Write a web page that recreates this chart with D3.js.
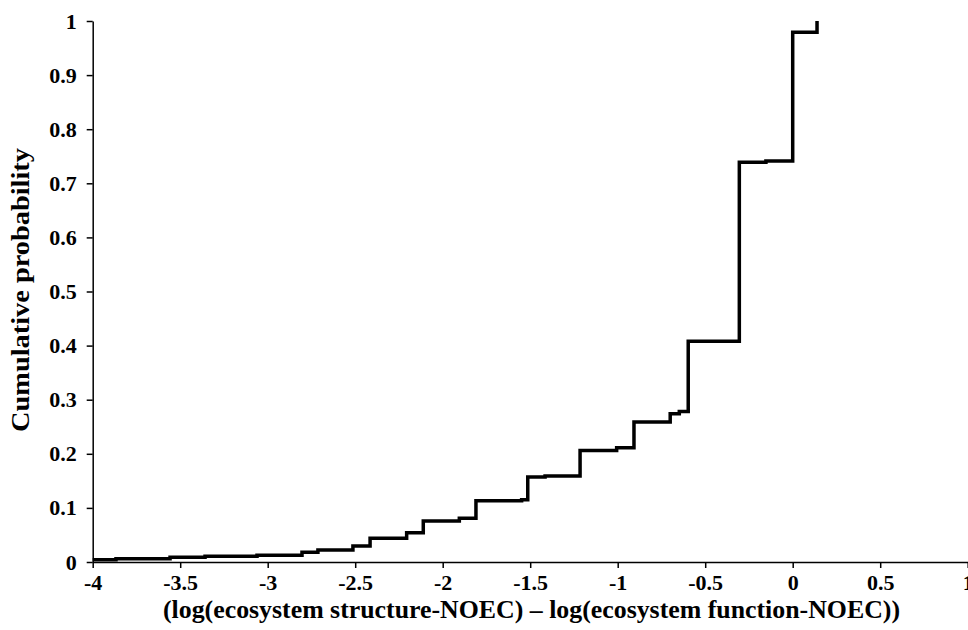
<!DOCTYPE html>
<html>
<head>
<meta charset="utf-8">
<script src="https://cdn.jsdelivr.net/npm/d3@7"></script>
<style>
  html, body { margin: 0; padding: 0; background: #fff; }
  text { font-family: "Liberation Serif", "Times New Roman", serif; font-weight: bold; fill: #000; }
</style>
</head>
<body>
<svg id="chart" width="968" height="630"></svg>
<script>
// Data: cumulative step function (x = log difference, y = cumulative probability)
const stepX = [-4, -3.867, -3.558, -3.358, -3.061, -2.804, -2.713, -2.513, -2.415, -2.206, -2.111, -1.905, -1.81, -1.549, -1.514, -1.415, -1.215, -1.006, -0.907, -0.70, -0.648, -0.597, -0.305, -0.153, 0.0, 0.139];
const stepY = [0.004, 0.006, 0.0087, 0.0105, 0.0124, 0.018, 0.022, 0.0296, 0.044, 0.054, 0.076, 0.081, 0.113, 0.115, 0.157, 0.159, 0.206, 0.211, 0.259, 0.274, 0.278, 0.408, 0.739, 0.741, 0.979, 1.0];
const xTicks = [-4, -3.5, -3, -2.5, -2, -1.5, -1, -0.5, 0, 0.5, 1];
const yTicks = [0, 0.1, 0.2, 0.3, 0.4, 0.5, 0.6, 0.7, 0.8, 0.9, 1];
const xTitle = "(log(ecosystem structure-NOEC) \u2013 log(ecosystem function-NOEC))";
const yTitle = "Cumulative probability";

const svg = d3.select("#chart");
const m = { left: 92.7, right: 967.7, top: 21, bottom: 562 };

const x = d3.scaleLinear().domain([-4, 1]).range([m.left, m.right]);
const y = d3.scaleLinear().domain([0, 1]).range([m.bottom, m.top]);

const fmt = d => String(+d.toFixed(1)).replace("\u2212", "-");

const xAxis = svg.append("g")
  .attr("transform", `translate(0,${m.bottom})`)
  .call(d3.axisBottom(x).tickValues(xTicks).tickSize(6).tickSizeOuter(0).tickPadding(6).tickFormat(fmt));
xAxis.selectAll("text").style("font-size", "22px");

const yAxis = svg.append("g")
  .attr("transform", `translate(${m.left},0)`)
  .call(d3.axisLeft(y).tickValues(yTicks).tickSize(6).tickSizeOuter(0).tickPadding(10).tickFormat(fmt));
yAxis.selectAll("text").style("font-size", "22px");

svg.selectAll(".domain, .tick line").attr("stroke", "#000").attr("stroke-width", 1.5);

const line = d3.line().x((d, i) => x(stepX[i])).y(d => y(d)).curve(d3.curveStepAfter);
svg.append("path")
  .datum(stepY)
  .attr("d", line)
  .attr("fill", "none")
  .attr("stroke", "#000")
  .attr("stroke-width", 3.5)
  .attr("stroke-linejoin", "miter");

svg.append("text")
  .attr("x", (163 + 900) / 2)
  .attr("y", 618)
  .attr("text-anchor", "middle")
  .attr("textLength", 737)
  .attr("lengthAdjust", "spacingAndGlyphs")
  .style("font-size", "25px")
  .text(xTitle);

svg.append("text")
  .attr("transform", `translate(29,290) rotate(-90)`)
  .attr("text-anchor", "middle")
  .attr("textLength", 284)
  .attr("lengthAdjust", "spacingAndGlyphs")
  .style("font-size", "25px")
  .text(yTitle);
</script>
</body>
</html>
